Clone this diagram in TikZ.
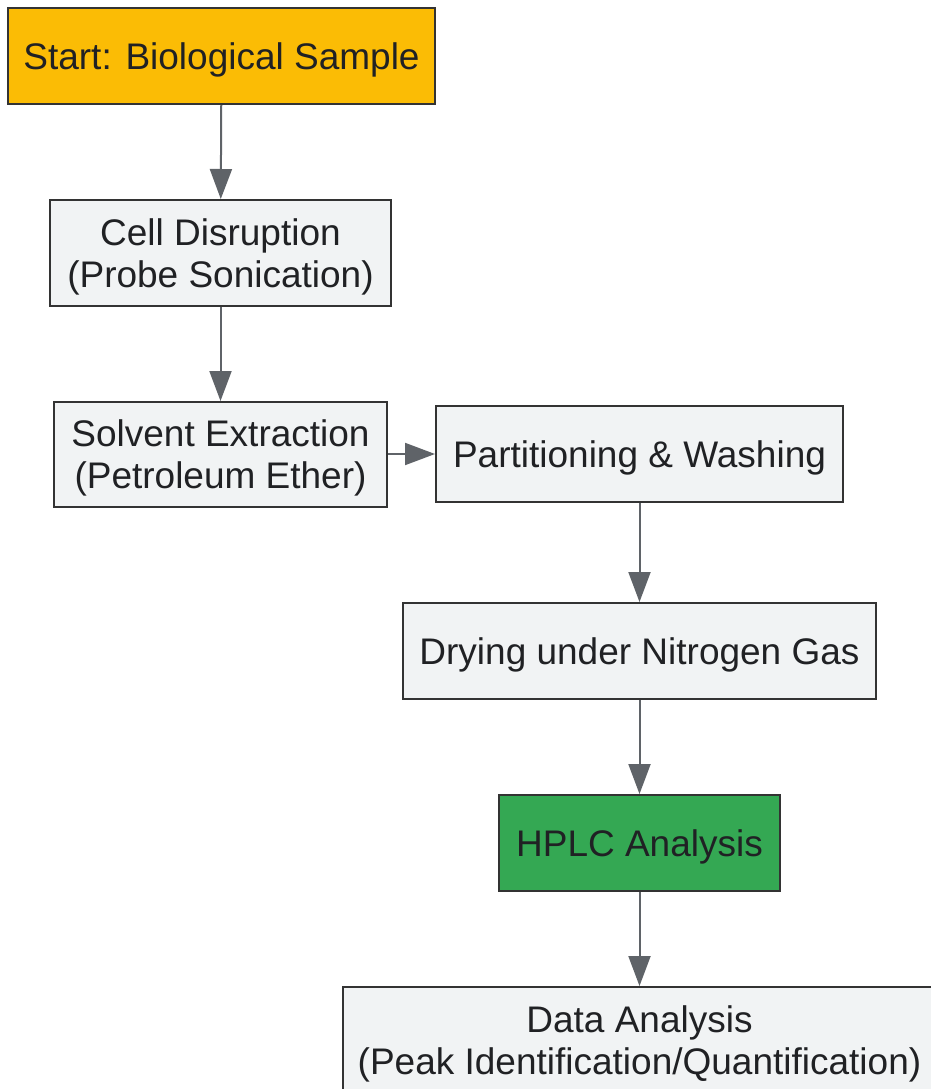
\documentclass[tikz,border=0pt]{standalone}
\usepackage{fontspec}
\setmainfont{Liberation Sans}
\usetikzlibrary{arrows.meta}
\definecolor{boxfill}{HTML}{F1F3F4}
\definecolor{boxline}{HTML}{333333}
\definecolor{startfill}{HTML}{FBBC05}
\definecolor{hplcfill}{HTML}{34A853}
\definecolor{arrowcol}{HTML}{5F6368}
\definecolor{textcol}{HTML}{202124}
\begin{document}
\begin{tikzpicture}[x=1pt,y=-1pt,
  stepbox/.style={draw=boxline, line width=2pt, fill=boxfill, inner sep=0pt,
    align=center, text=textcol, text depth=0pt, font=\fontsize{37}{42}\selectfont},
  flow/.style={draw=arrowcol, line width=2pt, -{Triangle[length=30pt,width=22pt]}}]
\useasboundingbox (0,0) rectangle (930,1089);
\node[stepbox, fill=startfill, minimum width=427pt, minimum height=96pt] (start) at (221.5,56) {Start: Biological Sample};
\node[stepbox, minimum width=341pt, minimum height=106pt] (cell) at (220.5,253) {Cell Disruption\\(Probe Sonication)};
\node[stepbox, minimum width=333pt, minimum height=105pt] (solv) at (220.5,454.5) {Solvent Extraction\\(Petroleum Ether)};
\node[stepbox, minimum width=407pt, minimum height=96pt] (part) at (639.5,454) {Partitioning \& Washing};
\node[stepbox, minimum width=473pt, minimum height=96pt] (dry) at (639.5,651) {Drying under Nitrogen Gas};
\node[stepbox, fill=hplcfill, minimum width=281pt, minimum height=96pt] (hplc) at (639.5,843) {HPLC Analysis};
\node[stepbox, minimum width=593pt, minimum height=106pt] (data) at (639.5,1040) {Data Analysis\\(Peak Identification/Quantification)};
\draw[flow] (start) -- (cell);
\draw[flow] (cell) -- (solv);
\draw[flow] (solv.east |- part.west) -- (part.west);
\draw[flow] (part) -- (dry);
\draw[flow] (dry) -- (hplc);
\draw[flow] (hplc) -- (data);
\end{tikzpicture}
\end{document}
